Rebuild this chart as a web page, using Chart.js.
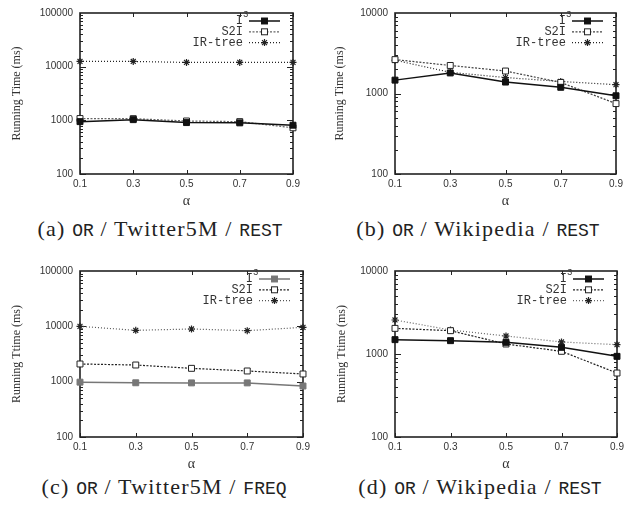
<!DOCTYPE html>
<html>
<head>
<meta charset="utf-8">
<script src="https://cdn.jsdelivr.net/npm/chart.js@4.4.0/dist/chart.umd.min.js"></script>
<style>
  body { margin: 0; background: #fff; width: 630px; height: 508px; position: relative; overflow: hidden; }
  canvas { position: absolute; }
  .cap { position: absolute; font-family: "Liberation Serif", "Times New Roman", serif; font-size: 22px; line-height: 24px;
         color: #222; white-space: nowrap; transform: translateX(-50%); letter-spacing: 1.2px; }
  .tt { font-family: "Liberation Mono", "Courier New", "DejaVu Sans Mono", monospace; font-size: 18px; letter-spacing: 0; }
</style>
</head>
<body>
<canvas id="ca"></canvas>
<canvas id="cb"></canvas>
<canvas id="cc"></canvas>
<canvas id="cd"></canvas>
<div class="cap" style="left:160px;top:217px">(a) <span class="tt">OR</span> / Twitter5M / <span class="tt">REST</span></div>
<div class="cap" style="left:478px;top:217px">(b) <span class="tt">OR</span> / Wikipedia / <span class="tt">REST</span></div>
<div class="cap" style="left:164px;top:475px">(c) <span class="tt">OR</span> / Twitter5M / <span class="tt">FREQ</span></div>
<div class="cap" style="left:480px;top:475px">(d) <span class="tt">OR</span> / Wikipedia / <span class="tt">REST</span></div>
<script>
// x values (alpha)
const alphas = ['0.1', '0.3', '0.5', '0.7', '0.9'];
const names = ['I3', 'S2I', 'IR-tree'];

// y tick labels
const ticksTwitter = [100, 1000, 10000, 100000];
const ticksWiki = [100, 1000, 10000];

// (a) OR / Twitter5M / REST
const aI3 = [946, 1030, 908, 897, 811];
const aS2I = [1080, 1075, 972, 946, 726];
const aIR = [12500, 12500, 12000, 12000, 12000];

// (b) OR / Wikipedia / REST
const bI3 = [1466, 1800, 1387, 1194, 937];
const bS2I = [2636, 2230, 1902, 1372, 749];
const bIR = [2588, 1833, 1578, 1412, 1286];

// (c) OR / Twitter5M / FREQ
const cI3 = [980, 955, 950, 950, 835];
const cS2I = [2086, 2000, 1741, 1560, 1377];
const cIR = [10000, 8470, 8950, 8350, 9590];

// (d) OR / Wikipedia / REST
const dI3 = [1489, 1448, 1382, 1203, 937];
const dS2I = [2036, 1910, 1320, 1077, 590];
const dIR = [2570, 1946, 1648, 1396, 1295];

const MONO = '"Liberation Mono", "Courier New", "DejaVu Sans Mono", monospace';

function getLineStyle(kind, color) {
  if (kind === 'I3') return { borderColor: color, borderWidth: 1.5, borderDash: [], pointStyle: 'rect', pointRadius: 4.2, pointBackgroundColor: color, pointBorderColor: color, pointBorderWidth: 1 };
  if (kind === 'S2I') return { borderColor: color, borderWidth: 1.2, borderDash: [2, 1.5], pointStyle: 'rect', pointRadius: 4.2, pointBackgroundColor: '#fff', pointBorderColor: '#222', pointBorderWidth: 1 };
  return { borderColor: color, borderWidth: 1.2, borderDash: [1, 2], pointStyle: 'star', pointRadius: 3.5, pointBackgroundColor: '#222', pointBorderColor: '#222', pointBorderWidth: 1.2 };
}

function drawMark(ctx, ds, x, y) {
  const r = ds.pointRadius * Math.SQRT1_2;
  ctx.setLineDash([]);
  ctx.lineWidth = ds.pointBorderWidth;
  ctx.strokeStyle = ds.pointBorderColor;
  ctx.fillStyle = ds.pointBackgroundColor;
  if (ds.pointStyle === 'rect') {
    ctx.fillRect(x - r, y - r, 2 * r, 2 * r);
    ctx.strokeRect(x - r, y - r, 2 * r, 2 * r);
  } else {
    const s = ds.pointRadius;
    ctx.beginPath();
    ctx.moveTo(x - s, y); ctx.lineTo(x + s, y);
    ctx.moveTo(x, y - s); ctx.lineTo(x, y + s);
    ctx.moveTo(x - r, y - r); ctx.lineTo(x + r, y + r);
    ctx.moveTo(x - r, y + r); ctx.lineTo(x + r, y - r);
    ctx.stroke();
  }
}

// box + inward ticks like gnuplot
const framePlugin = {
  id: 'frame',
  beforeDatasetsDraw(chart) {
    const { ctx, chartArea: a, scales } = chart;
    ctx.save();
    ctx.strokeStyle = '#222';
    ctx.lineWidth = 1;
    const xs = scales.x;
    xs.ticks.forEach((t, i) => {
      const px = Math.round(xs.getPixelForTick(i)) + 0.5;
      ctx.beginPath();
      ctx.moveTo(px, a.bottom); ctx.lineTo(px, a.bottom - 4);
      ctx.moveTo(px, a.top); ctx.lineTo(px, a.top + 4);
      ctx.stroke();
    });
    const ys = scales.y;
    for (let d = ys.min; d < ys.max; d *= 10) {
      for (let k = 1; k < 10; k++) {
        const py = Math.round(ys.getPixelForValue(d * k)) + 0.5;
        const len = k === 1 ? 6 : 3;
        ctx.beginPath();
        ctx.moveTo(a.left, py); ctx.lineTo(a.left + len, py);
        ctx.moveTo(a.right, py); ctx.lineTo(a.right - len, py);
        ctx.stroke();
      }
    }
    ctx.lineWidth = 1.6;
    ctx.strokeRect(a.left, a.top, a.right - a.left, a.bottom - a.top);
    ctx.restore();
  }
};

// key in top right corner, text on the left of the sample
const keyPlugin = {
  id: 'key',
  afterDraw(chart) {
    const { ctx, chartArea: a } = chart;
    ctx.save();
    ctx.font = '12px ' + MONO;
    ctx.textAlign = 'right';
    ctx.textBaseline = 'middle';
    chart.data.datasets.forEach((ds, i) => {
      const y = a.top + 8 + i * 10.8;
      const textEnd = a.right - 50;
      ctx.fillStyle = '#333';
      if (ds.label === 'I3') {
        ctx.fillText('I', textEnd, y);
        ctx.font = '9px ' + MONO;
        ctx.textAlign = 'left';
        ctx.fillText('3', textEnd, y - 6);
        ctx.font = '12px ' + MONO;
        ctx.textAlign = 'right';
      } else {
        ctx.fillText(ds.label, textEnd, y);
      }
      ctx.strokeStyle = ds.borderColor;
      ctx.lineWidth = ds.borderWidth;
      ctx.setLineDash(ds.borderDash);
      ctx.beginPath();
      ctx.moveTo(a.right - 44, y); ctx.lineTo(a.right - 13, y);
      ctx.stroke();
      drawMark(ctx, ds, a.right - 28.5, y);
    });
    ctx.restore();
  }
};

function makeChart(id, pos, yTicks, series, colors, yTitle) {
  const canvas = document.getElementById(id);
  canvas.width = pos.w;
  canvas.height = pos.h;
  canvas.style.left = pos.x + 'px';
  canvas.style.top = pos.y + 'px';

  const datasets = names.map((n, i) => Object.assign({
    label: n,
    data: series[i],
    tension: 0,
    clip: false
  }, getLineStyle(n, colors[i])));

  return new Chart(canvas, {
    type: 'line',
    data: { labels: alphas, datasets: datasets },
    options: {
      responsive: false,
      animation: false,
      layout: { padding: { top: pos.padTop, right: pos.padRight, left: 0, bottom: 0 } },
      plugins: { legend: { display: false }, tooltip: { enabled: false } },
      scales: {
        x: {
          type: 'category',
          offset: false,
          grid: { display: false, drawTicks: false },
          border: { display: false },
          ticks: { color: '#333', padding: 4, maxRotation: 0, font: { family: '"Liberation Sans", Arial, sans-serif', size: 10 } },
          title: { display: true, text: 'α', color: '#333', padding: { top: 0, bottom: 0 }, font: { family: '"Liberation Serif", serif', size: 14 } },
          afterFit: (s) => { s.height = 36; }
        },
        y: {
          type: 'logarithmic',
          min: yTicks[0],
          max: yTicks[yTicks.length - 1],
          grid: { display: false, drawTicks: false },
          border: { display: false },
          afterBuildTicks: (s) => { s.ticks = yTicks.map(v => ({ value: v })); },
          ticks: { color: '#333', padding: 7, callback: (v) => String(v), font: { family: '"Liberation Sans", Arial, sans-serif', size: 10 } },
          title: { display: true, text: yTitle, color: '#333', padding: { top: pos.titlePad, bottom: 0 }, font: { family: '"Liberation Serif", serif', size: 12 } },
          afterFit: (s) => { s.width = 80; }
        }
      }
    },
    plugins: [framePlugin, keyPlugin]
  });
}

makeChart('ca', { x: 0, y: 0, w: 315, h: 210, padTop: 9, padRight: 22, titlePad: 10 },
  ticksTwitter, [aI3, aS2I, aIR], ['#111', '#666', '#222'], 'Running Time (ms)');
makeChart('cb', { x: 315, y: 0, w: 315, h: 210, padTop: 9, padRight: 14, titlePad: 18 },
  ticksWiki, [bI3, bS2I, bIR], ['#111', '#444', '#222'], 'Running Time (ms)');
makeChart('cc', { x: 0, y: 255, w: 315, h: 218, padTop: 16, padRight: 12, titlePad: 10 },
  ticksTwitter, [cI3, cS2I, cIR], ['#777', '#222', '#555'], 'Running Ttime (ms)');
makeChart('cd', { x: 315, y: 255, w: 315, h: 218, padTop: 16, padRight: 13, titlePad: 20 },
  ticksWiki, [dI3, dS2I, dIR], ['#111', '#222', '#666'], 'Running Ttime (ms)');
</script>
</body>
</html>
